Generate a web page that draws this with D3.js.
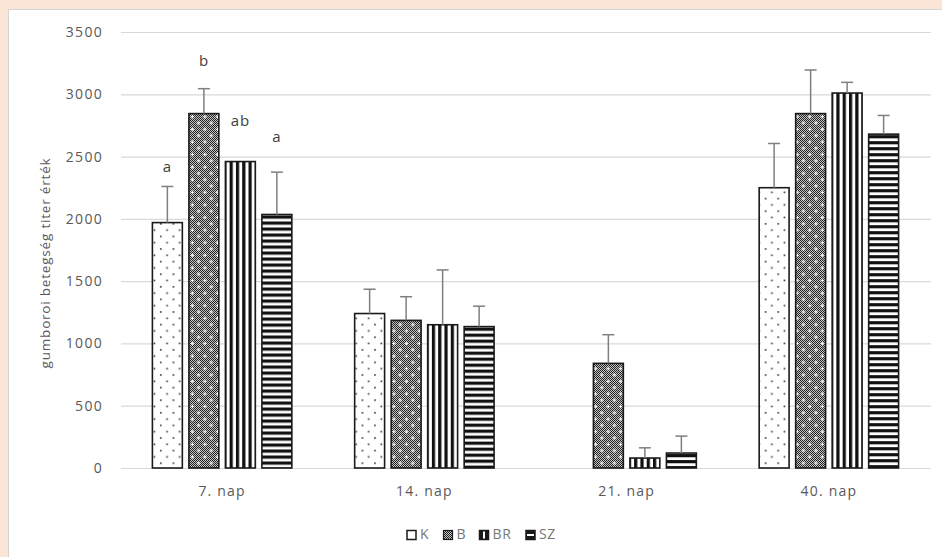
<!DOCTYPE html>
<html>
<head>
<meta charset="utf-8">
<script src="https://cdn.jsdelivr.net/npm/d3@7"></script>
<style>
  html, body { margin: 0; padding: 0; background: #fbe5d6; }
  svg { display: block; }
  text { font-family: "Open Sans", "Noto Sans", sans-serif; }
</style>
</head>
<body>
<svg id="chart" width="942" height="557"></svg>
<script>
// Days of sampling and treatment groups
const categories = ["7. nap", "14. nap", "21. nap", "40. nap"];
const seriesNames = ["K", "B", "BR", "SZ"];

// Mean titre per group (one value per sampling day)
const valuesK  = [1970, 1240,   0, 2250];
const valuesB  = [2845, 1185, 840, 2845];
const valuesBR = [2460, 1150,  80, 3010];
const valuesSZ = [2035, 1135, 120, 2680];

// Standard deviation (upper error bar)
const errK  = [290, 195,   0, 355];
const errB  = [200, 190, 230, 350];
const errBR = [  0, 440,  82,  86];
const errSZ = [340, 164, 136, 150];

// Significance letters on day 7 and the titre level they sit at
const letters      = ["a", "b", "ab", "a"];
const letterLevels = [2410, 3262, 2780, 2651];

const yTicks = [0, 500, 1000, 1500, 2000, 2500, 3000, 3500];
const yTitle = "gumboroi betegség titer érték";

const valuesBySeries = { K: valuesK, B: valuesB, BR: valuesBR, SZ: valuesSZ };
const errBySeries = { K: errK, B: errB, BR: errBR, SZ: errSZ };

const bars = [];
categories.forEach((c, gi) => {
  seriesNames.forEach((s, si) => {
    bars.push({ cat: c, gi, series: s, si, value: valuesBySeries[s][gi], err: errBySeries[s][gi] });
  });
});

const svg = d3.select("#chart");
const W = 942, H = 557;

// White chart area with a thin frame
svg.append("rect").attr("x", 8.5).attr("y", 9.5).attr("width", W).attr("height", H)
  .attr("fill", "#ffffff").attr("stroke", "#d4d4d4").attr("stroke-width", 1);

const plot = { left: 121, right: 930, top: 32, bottom: 468 };

const x = d3.scaleBand().domain(categories).range([plot.left, plot.right]).padding(0);
const xInner = d3.scaleBand().domain(seriesNames).range([-73, 73])
  .paddingInner(0.18).paddingOuter(0.09);
const y = d3.scaleLinear().domain([0, 3500]).range([plot.bottom, plot.top]);

const defs = svg.append("defs");

// Sparse dots
const pK = defs.append("pattern").attr("id", "pK").attr("patternUnits", "userSpaceOnUse")
  .attr("width", 12.6).attr("height", 12.6);
pK.append("rect").attr("width", 12.6).attr("height", 12.6).attr("fill", "#fff");
pK.append("rect").attr("x", 2.5).attr("y", 2.5).attr("width", 1.6).attr("height", 1.6).attr("fill", "#333");
pK.append("rect").attr("x", 8.8).attr("y", 8.8).attr("width", 1.6).attr("height", 1.6).attr("fill", "#333");

// Fine checker background
const pChk = defs.append("pattern").attr("id", "pChk").attr("patternUnits", "userSpaceOnUse")
  .attr("width", 2).attr("height", 2);
pChk.append("rect").attr("width", 2).attr("height", 2).attr("fill", "#c4c4c4");
pChk.append("rect").attr("x", 0).attr("y", 0).attr("width", 1).attr("height", 1).attr("fill", "#222");
pChk.append("rect").attr("x", 1).attr("y", 1).attr("width", 1).attr("height", 1).attr("fill", "#222");

// White crosses laid over the checker
const pPlus = defs.append("pattern").attr("id", "pPlus").attr("patternUnits", "userSpaceOnUse")
  .attr("width", 12.6).attr("height", 12.6);
[[3.3, 3.3], [9.6, 9.6]].forEach(([cx, cy]) => {
  pPlus.append("rect").attr("x", cx - 1.8).attr("y", cy - 0.5).attr("width", 3.6).attr("height", 1).attr("fill", "#fff");
  pPlus.append("rect").attr("x", cx - 0.5).attr("y", cy - 1.8).attr("width", 1).attr("height", 3.6).attr("fill", "#fff");
});

function barX(d) { return x(d.cat) + x.bandwidth() / 2 + xInner(d.series); }

// Stripe patterns anchored to each bar
const drawn = bars.filter(d => d.value > 0);
drawn.filter(d => d.series === "BR").forEach(d => {
  const p = defs.append("pattern").attr("id", `pBR${d.gi}`).attr("patternUnits", "userSpaceOnUse")
    .attr("x", barX(d) + 4.2).attr("y", 0).attr("width", 6.3).attr("height", 10);
  p.append("rect").attr("width", 6.3).attr("height", 10).attr("fill", "#fff");
  p.append("rect").attr("x", 0).attr("width", 3.2).attr("height", 10).attr("fill", "#111");
});
drawn.filter(d => d.series === "SZ").forEach(d => {
  const p = defs.append("pattern").attr("id", `pSZ${d.gi}`).attr("patternUnits", "userSpaceOnUse")
    .attr("x", 0).attr("y", y(d.value) + 1).attr("width", 10).attr("height", 6);
  p.append("rect").attr("width", 10).attr("height", 6).attr("fill", "#fff");
  p.append("rect").attr("y", 0).attr("width", 10).attr("height", 3.2).attr("fill", "#111");
});

// Y axis with gridlines
const yAxis = d3.axisLeft(y).tickValues(yTicks).tickFormat(d3.format("d"))
  .tickSize(-(plot.right - plot.left + 1)).tickPadding(18);
const gy = svg.append("g").attr("transform", `translate(${plot.left},0)`).call(yAxis);
gy.select(".domain").remove();
gy.selectAll(".tick line").attr("stroke", "#d9d9d9").attr("stroke-width", 1.2);
gy.selectAll(".tick text").attr("fill", "#595959").attr("font-size", 14)
  .attr("letter-spacing", 1.3).attr("font-family", "'Open Sans', sans-serif");

// X axis labels
const xAxis = d3.axisBottom(x).tickSize(0).tickPadding(18);
const gx = svg.append("g").attr("transform", `translate(0,${plot.bottom})`).call(xAxis);
gx.select(".domain").remove();
gx.selectAll(".tick text").attr("fill", "#595959").attr("font-size", 14)
  .attr("letter-spacing", 1.2).attr("font-family", "'Open Sans', sans-serif");

// Y axis title
svg.append("text")
  .attr("transform", `translate(46,263) rotate(-90)`)
  .attr("text-anchor", "middle").attr("dominant-baseline", "middle")
  .attr("fill", "#595959").attr("font-size", 13.5).attr("letter-spacing", 0.8)
  .text(yTitle);

// Bars
const gBars = svg.append("g");
const bw = xInner.bandwidth();
drawn.forEach(d => {
  const bx = barX(d), by = y(d.value), bh = y(0) - y(d.value);
  const g = gBars.append("g");
  if (d.series === "K") {
    g.append("rect").attr("x", bx).attr("y", by).attr("width", bw).attr("height", bh).attr("fill", "url(#pK)");
  } else if (d.series === "B") {
    g.append("rect").attr("x", bx).attr("y", by).attr("width", bw).attr("height", bh).attr("fill", "url(#pChk)");
    g.append("rect").attr("x", bx).attr("y", by).attr("width", bw).attr("height", bh).attr("fill", "url(#pPlus)");
  } else {
    g.append("rect").attr("x", bx).attr("y", by).attr("width", bw).attr("height", bh)
      .attr("fill", `url(#p${d.series}${d.gi})`);
  }
  g.append("rect").attr("x", bx).attr("y", by).attr("width", bw).attr("height", bh)
    .attr("fill", "none").attr("stroke", "#1a1a1a").attr("stroke-width", 1.6);
});

// Error bars
const gErr = svg.append("g").attr("stroke", "#7f7f7f").attr("stroke-width", 1.5);
drawn.filter(d => d.err > 0).forEach(d => {
  const cx = barX(d) + bw / 2;
  gErr.append("line").attr("x1", cx).attr("x2", cx).attr("y1", y(d.value)).attr("y2", y(d.value + d.err));
  gErr.append("line").attr("x1", cx - 6).attr("x2", cx + 6).attr("y1", y(d.value + d.err)).attr("y2", y(d.value + d.err));
});

// Significance letters for the first sampling day
svg.append("g").selectAll("text").data(letters).join("text")
  .attr("x", (l, i) => x(categories[0]) + x.bandwidth() / 2 + xInner(seriesNames[i]) + bw / 2)
  .attr("y", (l, i) => y(letterLevels[i]))
  .attr("text-anchor", "middle").attr("dominant-baseline", "middle")
  .attr("fill", "#404040").attr("font-size", 15).attr("letter-spacing", 0.8)
  .text(l => l);

// Legend
const legendItems = [
  { name: "K", x: 407 },
  { name: "B", x: 443.5 },
  { name: "BR", x: 479.5 },
  { name: "SZ", x: 526 }
];
const gL = svg.append("g");
legendItems.forEach(it => {
  const lx = it.x, ly = 530.5, s = 9;
  if (it.name === "K") {
    gL.append("rect").attr("x", lx).attr("y", ly).attr("width", s).attr("height", s)
      .attr("fill", "#fff").attr("stroke", "#1a1a1a").attr("stroke-width", 1.5);
  } else if (it.name === "B") {
    gL.append("rect").attr("x", lx).attr("y", ly).attr("width", s).attr("height", s)
      .attr("fill", "url(#pChk)").attr("stroke", "#1a1a1a").attr("stroke-width", 1.2);
  } else if (it.name === "BR") {
    gL.append("rect").attr("x", lx).attr("y", ly).attr("width", s).attr("height", s)
      .attr("fill", "#1a1a1a").attr("stroke", "#1a1a1a").attr("stroke-width", 1.5);
    gL.append("rect").attr("x", lx + 3.5).attr("y", ly + 1).attr("width", 2).attr("height", s - 2).attr("fill", "#fff");
  } else {
    gL.append("rect").attr("x", lx).attr("y", ly).attr("width", s).attr("height", s)
      .attr("fill", "#1a1a1a").attr("stroke", "#1a1a1a").attr("stroke-width", 1.5);
    gL.append("rect").attr("x", lx + 1).attr("y", ly + 3.5).attr("width", s - 2).attr("height", 2).attr("fill", "#fff");
  }
  gL.append("text").attr("x", lx + s + 4).attr("y", ly + s / 2 + 0.5)
    .attr("dominant-baseline", "middle").attr("fill", "#767676")
    .attr("font-size", 14).attr("letter-spacing", 0.6).text(it.name);
});
</script>
</body>
</html>
